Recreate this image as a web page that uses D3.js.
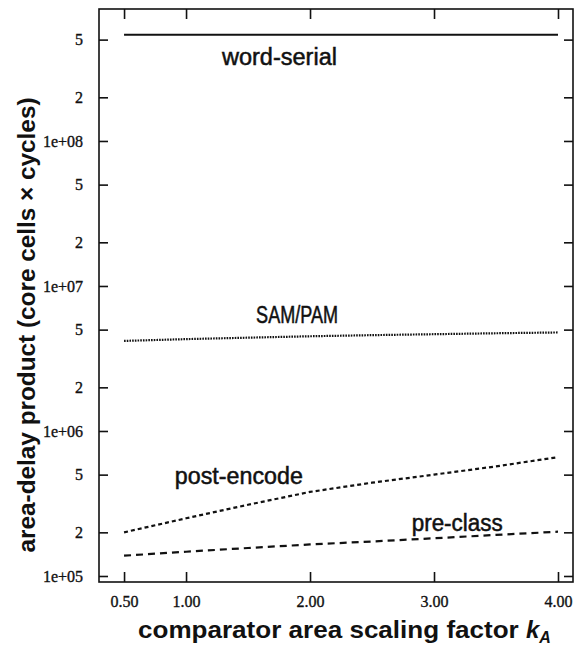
<!DOCTYPE html>
<html>
<head>
<meta charset="utf-8">
<script src="https://cdn.jsdelivr.net/npm/d3@7"></script>
<style>
  body { margin: 0; background: #fff; }
  svg { display: block; }
</style>
</head>
<body>
<div id="chart"></div>
<script>
// comparator area scaling factor k_A
const kA = [0.5, 1.0, 1.5, 2.0, 2.5, 3.0, 3.5, 4.0];

// area-delay product for each scheme
const wordSerial = [5.4e8, 5.4e8, 5.4e8, 5.4e8, 5.4e8, 5.4e8, 5.4e8, 5.4e8];
const samPam     = [4.18e6, 4.3e6, 4.4e6, 4.5e6, 4.58e6, 4.65e6, 4.72e6, 4.78e6];
const postEncode = [2.0e5, 2.5e5, 3.1e5, 3.8e5, 4.4e5, 5.0e5, 5.7e5, 6.6e5];
const preClass   = [1.38e5, 1.47e5, 1.56e5, 1.65e5, 1.73e5, 1.82e5, 1.92e5, 2.02e5];

const seriesNames = ["word-serial", "SAM/PAM", "post-encode", "pre-class"];

// tick values and labels
const xTicks = [0.5, 1, 2, 3, 4];
const xTickLabels = ["0.50", "1.00", "2.00", "3.00", "4.00"];
const yTicks = [5e8, 2e8, 1e8, 5e7, 2e7, 1e7, 5e6, 2e6, 1e6, 5e5, 2e5, 1e5];
const yTickLabels = ["5", "2", "1e+08", "5", "2", "1e+07", "5", "2", "1e+06", "5", "2", "1e+05"];

// where each curve label sits, in data units
const labelX = [1.29, 1.565, 0.91, 2.82];
const labelY = [3.34e8, 5.56e6, 4.3e5, 2.04e5];

function main() {
    const width = 575;
    const height = 645;
    const left = 99, right = 573, top = 9, bottom = 582;

    const svg = d3.select("#chart")
        .append("svg")
        .attr("width", width)
        .attr("height", height);

    const x = d3.scaleLinear().domain([0.298, 4.121]).range([left, right]);
    const y = d3.scaleLog().domain([9.09e4, 8.13e8]).range([bottom, top]);

    const tickFont = "'Liberation Serif', 'Times New Roman', serif";
    const sansFont = "'Liberation Sans', Arial, Helvetica, sans-serif";

    // axes: ticks point inward on all four sides
    const axisBottom = d3.axisBottom(x).tickValues(xTicks)
        .tickSize(-10).tickPadding(14)
        .tickFormat((d, i) => xTickLabels[i]);
    const axisTop = d3.axisTop(x).tickValues(xTicks).tickSize(-10).tickFormat("");
    const axisLeft = d3.axisLeft(y).tickValues(yTicks)
        .tickSize(-9).tickPadding(16)
        .tickFormat((d, i) => yTickLabels[i]);
    const axisRight = d3.axisRight(y).tickValues(yTicks).tickSize(-9).tickFormat("");

    const gb = svg.append("g").attr("transform", `translate(0,${bottom})`).call(axisBottom);
    const gt = svg.append("g").attr("transform", `translate(0,${top})`).call(axisTop);
    const gl = svg.append("g").attr("transform", `translate(${left},0)`).call(axisLeft);
    const gr = svg.append("g").attr("transform", `translate(${right},0)`).call(axisRight);

    [gb, gt, gl, gr].forEach(g => {
        g.select(".domain").remove();
        g.selectAll(".tick line").attr("stroke", "#111").attr("stroke-width", 1.6);
        g.selectAll(".tick text")
            .attr("fill", "#111")
            .attr("stroke", "#111")
            .attr("stroke-width", 0.35)
            .style("font-family", tickFont)
            .style("font-size", "16px");
    });

    // frame
    svg.append("rect")
        .attr("x", left).attr("y", top)
        .attr("width", right - left).attr("height", bottom - top)
        .attr("fill", "none").attr("stroke", "#111").attr("stroke-width", 1.6);

    // curves
    const allSeries = [wordSerial, samPam, postEncode, preClass];
    const dashes = [null, "1.6,1.1", "4,3", "7,5"];
    const widths = [2, 2.2, 2.2, 2.2];

    const line = d3.line()
        .x((d, i) => x(kA[i]))
        .y(d => y(d));

    svg.selectAll("path.curve")
        .data(allSeries)
        .enter()
        .append("path")
        .attr("class", "curve")
        .attr("d", line)
        .attr("fill", "none")
        .attr("stroke", "#111")
        .attr("stroke-width", (d, i) => widths[i])
        .attr("stroke-dasharray", (d, i) => dashes[i]);

    // curve labels
    const labelLengths = [115, 82, 128, 91];
    svg.selectAll("text.curve-label")
        .data(seriesNames)
        .enter()
        .append("text")
        .attr("class", "curve-label")
        .attr("x", (d, i) => x(labelX[i]))
        .attr("y", (d, i) => y(labelY[i]))
        .attr("textLength", (d, i) => labelLengths[i])
        .attr("lengthAdjust", "spacingAndGlyphs")
        .attr("stroke", "#111")
        .attr("stroke-width", 0.5)
        .style("font-family", sansFont)
        .style("font-size", "23px")
        .attr("fill", "#111")
        .text(d => d);

    // y axis title
    svg.append("text")
        .attr("transform", "translate(35,325) rotate(-90)")
        .attr("text-anchor", "middle")
        .attr("textLength", 455)
        .attr("lengthAdjust", "spacingAndGlyphs")
        .style("font-family", sansFont)
        .style("font-size", "24px")
        .style("font-weight", "bold")
        .attr("fill", "#111")
        .text("area-delay product (core cells \u00d7 cycles)");

    // x axis title with italic k and subscript A
    const xt = svg.append("text")
        .attr("x", 138)
        .attr("y", 638)
        .style("font-family", sansFont)
        .style("font-size", "24px")
        .style("font-weight", "bold")
        .attr("fill", "#111");
    xt.append("tspan")
        .attr("textLength", 388)
        .attr("lengthAdjust", "spacingAndGlyphs")
        .text("comparator area scaling factor ");
    xt.append("tspan")
        .style("font-style", "italic")
        .text("k");
    xt.append("tspan")
        .attr("dy", 5)
        .style("font-style", "italic")
        .style("font-size", "16px")
        .text("A");
}

main();
</script>
</body>
</html>
